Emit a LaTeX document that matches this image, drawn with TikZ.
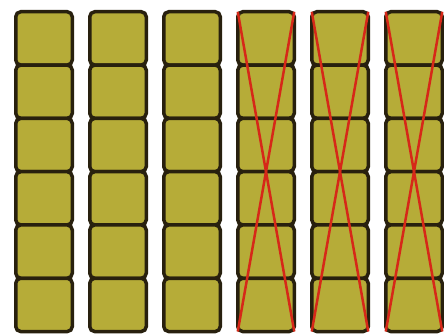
\documentclass[tikz,border=0pt]{standalone}
\definecolor{olivefill}{RGB}{182,172,56}
\definecolor{boxedge}{RGB}{40,32,14}
\definecolor{crossred}{RGB}{214,40,24}
\begin{document}
\begin{tikzpicture}[x=1pt,y=1pt,
  cell/.style={draw=boxedge, fill=olivefill, line width=3.5pt, rounded corners=5pt,
    minimum width=56.5pt, minimum height=53.3pt, inner sep=0pt, outer sep=0pt},
  crossline/.style={draw=crossred, line width=2.5pt}]
\useasboundingbox (0,0) rectangle (444,335);
\fill[white] (0,0) rectangle (444,335);
\foreach \c in {0,...,5}{
  \foreach \r in {0,...,5}{
    \node[cell] (b-\c-\r) at ({44+74*\c},{335-(11.75+26.65+53.3*\r)}) {};
  }
}
\foreach \c in {3,4,5}{
  \draw[crossline] (b-\c-0.north west) -- (b-\c-5.south east);
  \draw[crossline] (b-\c-0.north east) -- (b-\c-5.south west);
}
\end{tikzpicture}
\end{document}
